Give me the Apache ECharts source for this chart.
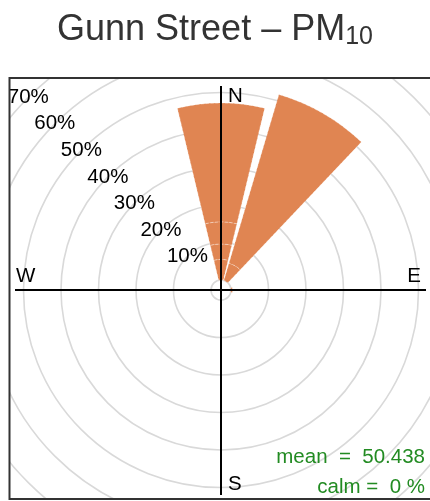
<!DOCTYPE html>
<html>
<head>
<meta charset="utf-8">
<script src="https://cdn.jsdelivr.net/npm/echarts@6/dist/echarts.min.js"></script>
<style>
  html, body { margin: 0; padding: 0; background: #fff; }
  #chart { width: 430px; height: 501px; }
</style>
</head>
<body>
<div id="chart"></div>
<script>
// wind sectors, clockwise from 330 so that the radius labels sit on the NW line
const directions = ['330', '0', '30', '60', '90', '120', '150', '180', '210', '240', '270', '300'];
// stacked concentration intervals (% of time)
const band1 = [null, 5.5, 4.8, null, 0.4, null, null, null, null, null, null, null];
const band2 = [null, 4.1, 46.9, null, null, null, null, null, null, null, null, null];
const band3 = [null, 5.9, null, null, null, null, null, null, null, null, null, null];
const band4 = [null, 31.7, null, null, null, null, null, null, null, null, null, null];
const radiusMax = 70;
const radiusStep = 10;
const meanText = 'mean  =  50.438';
const calmText = 'calm =  0 %';

const chart = echarts.init(document.getElementById('chart'));
const cx = 221, cy = 290;
const font = 'Liberation Sans, Arial, sans-serif';
const petal = '#E08552';

function band (data) {
  return {
    type: 'bar',
    coordinateSystem: 'polar',
    stack: 'rose',
    data: data,
    barCategoryGap: '10%',
    silent: true,
    itemStyle: {
      color: petal,
      borderColor: 'rgba(255,255,255,0.45)',
      borderWidth: 0.8,
      borderType: 'dashed'
    }
  };
}

const option = {
  animation: false,
  title: {
    text: '{a|Gunn Street – PM}{b|10}',
    left: 'center',
    top: 4,
    z: 200,
    textStyle: {
      fontWeight: 'normal',
      rich: {
        a: { fontSize: 36, fontWeight: 'normal', lineHeight: 41, color: '#333', fontFamily: font, verticalAlign: 'bottom', padding: [0, 0, 2, 0] },
        b: { fontSize: 25, fontWeight: 'normal', lineHeight: 29, color: '#333', fontFamily: font, verticalAlign: 'bottom' }
      }
    }
  },
  polar: {
    center: [cx, cy],
    radius: [10, 10 + 37.5 * radiusMax / radiusStep]
  },
  angleAxis: {
    type: 'category',
    data: directions,
    startAngle: 135,
    clockwise: true,
    axisLine: { show: false },
    axisTick: { show: false },
    axisLabel: { show: false },
    splitLine: { show: false }
  },
  radiusAxis: {
    min: 0,
    max: radiusMax,
    interval: radiusStep,
    axisLine: { show: false },
    axisTick: { show: false },
    axisLabel: {
      margin: 0,
      align: 'center',
      verticalAlign: 'middle',
      fontSize: 20.5,
      color: '#000',
      fontFamily: font,
      formatter: function (v) { return v === 0 ? '' : v + '%'; }
    },
    splitLine: {
      show: true,
      lineStyle: { color: '#d9d9d9', width: 1.6 }
    }
  },
  series: [band(band1), band(band2), band(band3), band(band4)],
  graphic: [
    // clip the grid to the panel
    { type: 'rect', z: 100, shape: { x: 0, y: 0, width: 430, height: 78 }, style: { fill: '#fff' } },
    { type: 'rect', z: 100, shape: { x: 0, y: 0, width: 9, height: 501 }, style: { fill: '#fff' } },
    { type: 'rect', z: 100, shape: { x: 0, y: 499, width: 430, height: 2 }, style: { fill: '#fff' } },
    // panel border
    { type: 'polyline', z: 110, shape: { points: [[432, 78], [9.5, 78], [9.5, 499], [432, 499]] },
      style: { stroke: '#333', lineWidth: 2, fill: null } },
    // compass axes
    { type: 'line', z: 90, shape: { x1: 15, y1: cy, x2: 426, y2: cy }, style: { stroke: '#000', lineWidth: 2 } },
    { type: 'line', z: 90, shape: { x1: cx, y1: 86, x2: cx, y2: 495 }, style: { stroke: '#000', lineWidth: 2 } },
    { type: 'text', z: 90, x: 228, y: 96, style: { text: 'N', font: '20.5px ' + font, fill: '#000', verticalAlign: 'middle' } },
    { type: 'text', z: 90, x: 421, y: 276, style: { text: 'E', font: '20.5px ' + font, fill: '#000', align: 'right', verticalAlign: 'middle' } },
    { type: 'text', z: 90, x: 228, y: 484, style: { text: 'S', font: '20.5px ' + font, fill: '#000', verticalAlign: 'middle' } },
    { type: 'text', z: 90, x: 16, y: 276, style: { text: 'W', font: '20.5px ' + font, fill: '#000', verticalAlign: 'middle' } },
    { type: 'text', z: 90, x: 425, y: 457, style: { text: meanText, font: '20.5px ' + font, fill: '#228B22', align: 'right', verticalAlign: 'middle' } },
    { type: 'text', z: 90, x: 425, y: 487, style: { text: calmText, font: '20.5px ' + font, fill: '#228B22', align: 'right', verticalAlign: 'middle' } }
  ]
};
chart.setOption(option);
</script>
</body>
</html>
